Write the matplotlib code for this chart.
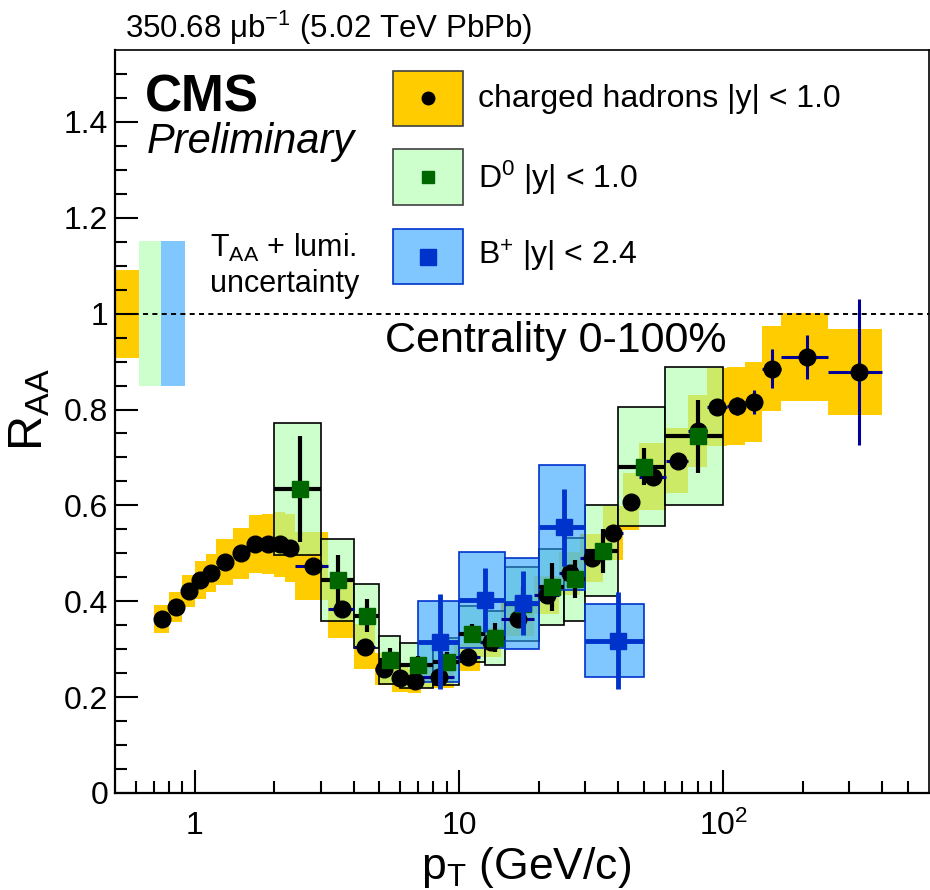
import matplotlib
matplotlib.use('Agg')
import matplotlib.pyplot as plt
from matplotlib.patches import Rectangle
from matplotlib.lines import Line2D
from matplotlib.ticker import FixedLocator, FixedFormatter, NullFormatter

plt.rcParams['font.family'] = ['Liberation Sans', 'DejaVu Sans']
plt.rcParams['mathtext.fontset'] = 'custom'
plt.rcParams['mathtext.rm'] = 'Liberation Sans'
plt.rcParams['mathtext.it'] = 'Liberation Sans:italic'
plt.rcParams['mathtext.bf'] = 'Liberation Sans:bold'

# ---------------- data ----------------
ch_lo = [0.7, 0.8, 0.9, 1.0, 1.1, 1.2, 1.4, 1.6, 1.8, 2.0, 2.2, 2.4, 3.2, 4.0, 4.8, 5.6, 6.4, 7.2,
         9.6, 12.0, 14.4, 19.2, 24.0, 28.8, 35.2, 41.6, 48.0, 60.8, 73.6, 86.4, 103.6, 120.8, 140, 165, 250]
ch_hi = [0.8, 0.9, 1.0, 1.1, 1.2, 1.4, 1.6, 1.8, 2.0, 2.2, 2.4, 3.2, 4.0, 4.8, 5.6, 6.4, 7.2, 9.6,
         12.0, 14.4, 19.2, 24.0, 28.8, 35.2, 41.6, 48.0, 60.8, 73.6, 86.4, 103.6, 120.8, 140, 165, 250, 400]
ch_raa = [0.363, 0.388, 0.421, 0.444, 0.459, 0.482, 0.500, 0.519, 0.519, 0.519, 0.511, 0.474, 0.384,
          0.305, 0.259, 0.239, 0.234, 0.243, 0.283, 0.314, 0.362, 0.413, 0.458, 0.490, 0.542, 0.608,
          0.660, 0.693, 0.756, 0.805, 0.808, 0.816, 0.885, 0.909, 0.878]
ch_stat = [0.002, 0.002, 0.002, 0.002, 0.002, 0.002, 0.002, 0.002, 0.002, 0.002, 0.002, 0.002, 0.002,
           0.002, 0.002, 0.002, 0.002, 0.002, 0.003, 0.003, 0.004, 0.005, 0.005, 0.006, 0.007, 0.008,
           0.008, 0.01, 0.01, 0.012, 0.019, 0.025, 0.041, 0.046, 0.153]
ch_sys = [0.029, 0.031, 0.034, 0.039, 0.040, 0.048, 0.053, 0.060, 0.062, 0.068, 0.070, 0.071, 0.061,
          0.047, 0.034, 0.028, 0.025, 0.023, 0.028, 0.030, 0.035, 0.040, 0.045, 0.050, 0.056, 0.059,
          0.070, 0.068, 0.075, 0.082, 0.081, 0.083, 0.089, 0.092, 0.090]

d0_lo = [2, 3, 4, 5, 6, 8, 10, 12.5, 15, 20, 25, 30, 40, 60]
d0_hi = [3, 4, 5, 6, 8, 10, 12.5, 15, 20, 25, 30, 40, 60, 100]
d0_raa = [0.634, 0.444, 0.370, 0.277, 0.266, 0.274, 0.332, 0.324, 0.395, 0.430, 0.446, 0.505, 0.681, 0.744]
d0_stat = [0.111, 0.052, 0.034, 0.026, 0.020, 0.020, 0.020, 0.030, 0.035, 0.050, 0.040, 0.046, 0.039, 0.076]
d0_sys = [0.137, 0.086, 0.067, 0.050, 0.047, 0.049, 0.058, 0.056, 0.077, 0.080, 0.087, 0.095, 0.125, 0.144]

bp_lo = [7, 10, 15, 20, 30]
bp_hi = [10, 15, 20, 30, 50]
bp_raa = [0.316, 0.403, 0.396, 0.554, 0.318]
bp_stat = [0.099, 0.067, 0.067, 0.080, 0.101]
bp_sys = [0.084, 0.100, 0.095, 0.130, 0.076]

# normalisation uncertainty boxes (x range, half height)
norm_lo = [0.5, 0.614, 0.745]
norm_hi = [0.614, 0.745, 0.917]
norm_unc = [0.092, 0.151, 0.151]

y_ticks = [0, 0.2, 0.4, 0.6, 0.8, 1.0, 1.2, 1.4]
y_ticklabels = ['0', '0.2', '0.4', '0.6', '0.8', '1', '1.2', '1.4']
x_ticks = [1, 10, 100]
x_ticklabels = ['1', '10', r'$10^{2}$']

# ---------------- style ----------------
YEL = '#ffcc00'
GRN_FACE = (0.667, 1.0, 0.667, 0.6)
GRN_LEG = (0.8, 1.0, 0.8)
BLU_FACE = (0.17, 0.63, 1.0, 0.6)
BLU_LEG = (0.5, 0.78, 1.0)
BLU = (0.0, 0.2, 0.8)
DGRN = (0.0, 0.4, 0.0)
NAVY = (0.0, 0.0, 0.6)

W, H = 930, 890
fx = lambda p: p / W
fy = lambda p: 1 - p / H

fig = plt.figure(figsize=(9.3, 8.9), dpi=100)
ax = fig.add_axes([fx(115), fy(793), (929 - 115) / W, (793 - 50) / H])
ax.set_xscale('log')
ax.set_xlim(0.5, 600)
ax.set_ylim(0, 1.55)


def boxes(lo, hi, y, s, fc, ec, lw, z):
    for l, h, v, e in zip(lo, hi, y, s):
        ax.add_patch(Rectangle((l, v - e), h - l, 2 * e, facecolor=fc, edgecolor=ec,
                               linewidth=lw, zorder=z))


# normalisation boxes
boxes(norm_lo[:1], norm_hi[:1], [1.0], norm_unc[:1], YEL, 'none', 0, 1)
boxes(norm_lo[1:2], norm_hi[1:2], [1.0], norm_unc[1:2], GRN_LEG, 'none', 0, 1)
boxes(norm_lo[2:], norm_hi[2:], [1.0], norm_unc[2:], BLU_LEG, 'none', 0, 1)

ax.axhline(1.0, color='black', linestyle=(0, (2.6, 2.2)), linewidth=1.4, zorder=8)

# systematic boxes
boxes(ch_lo, ch_hi, ch_raa, ch_sys, YEL, 'none', 0, 2)
boxes(d0_lo, d0_hi, d0_raa, d0_sys, GRN_FACE, 'black', 1.2, 3)
boxes(bp_lo, bp_hi, bp_raa, bp_sys, BLU_FACE, BLU, 1.2, 4)

# points
def centers(lo, hi):
    return [(l + h) / 2 for l, h in zip(lo, hi)]

cx = centers(ch_lo, ch_hi)
ax.errorbar(cx, ch_raa, yerr=ch_stat,
            xerr=[[c - l for c, l in zip(cx, ch_lo)], [h - c for c, h in zip(cx, ch_hi)]],
            fmt='o', color='black', ms=12, ecolor=NAVY, elinewidth=2.2, capsize=0, zorder=5)
dx = centers(d0_lo, d0_hi)
ax.errorbar(dx, d0_raa, yerr=d0_stat,
            xerr=[[c - l for c, l in zip(dx, d0_lo)], [h - c for c, h in zip(dx, d0_hi)]],
            fmt='s', mfc=DGRN, mec=DGRN, ms=11, ecolor='black', elinewidth=3, capsize=0, zorder=6)
bx = centers(bp_lo, bp_hi)
ax.errorbar(bx, bp_raa, yerr=bp_stat,
            xerr=[[c - l for c, l in zip(bx, bp_lo)], [h - c for c, h in zip(bx, bp_hi)]],
            fmt='s', mfc=BLU, mec=BLU, ms=12, ecolor=BLU, elinewidth=3.5, capsize=0, zorder=7)

# axes styling
ax.yaxis.set_major_locator(FixedLocator(y_ticks))
ax.yaxis.set_major_formatter(FixedFormatter(y_ticklabels))
ax.yaxis.set_minor_locator(FixedLocator([i * 0.05 for i in range(31)]))
ax.xaxis.set_major_locator(FixedLocator(x_ticks))
ax.xaxis.set_major_formatter(FixedFormatter(x_ticklabels))
ax.xaxis.set_minor_locator(FixedLocator([0.6, 0.7, 0.8, 0.9] + list(range(2, 10)) +
                                        list(range(20, 100, 10)) + [200, 300, 400, 500]))
ax.xaxis.set_minor_formatter(NullFormatter())
ax.tick_params(which='both', direction='in', top=False, right=False, width=1.5)
ax.tick_params(which='major', length=16.5, labelsize=23)
ax.tick_params(which='minor', length=8.6)
ax.tick_params(axis='x', which='major', pad=13)
ax.tick_params(axis='y', which='major', pad=5)
for s in ['left', 'bottom']:
    ax.spines[s].set_linewidth(1.6)
for s in ['top', 'right']:
    ax.spines[s].set_linewidth(1.2)

# legend boxes
leg = [(70.7, 125.7, YEL, 'o', 'black', 9, 'charged hadrons |y| < 1.0', 106.7),
       (149.3, 205.0, GRN_LEG, 's', DGRN, 9, r'D$^{0}$ |y| < 1.0', 188.3),
       (229.0, 284.0, BLU_LEG, 's', BLU, 11, r'B$^{+}$ |y| < 2.4', 265.0)]
for i, (t, b, fc, mk, mc, msz, lab, base) in enumerate(leg):
    ec = BLU if i == 2 else (0.25, 0.25, 0.25)
    fig.add_artist(Rectangle((fx(392.7), fy(b)), (463.3 - 392.7) / W, (b - t) / H,
                             transform=fig.transFigure, facecolor=fc, edgecolor=ec, linewidth=1.2))
    fig.add_artist(Line2D([fx(428)], [fy((t + b) / 2)], marker=mk, color=mc, ms=msz,
                          linestyle='none', transform=fig.transFigure))
    fig.text(fx(478), fy(base), lab, fontsize=23, va='baseline')

# texts
fig.text(fx(125), fy(38), r'350.68 μb$^{-1}$ (5.02 TeV PbPb)', fontsize=22.5, va='baseline')
fig.text(fx(145), fy(111.7), 'CMS', fontsize=37, fontweight='bold', va='baseline')
fig.text(fx(147), fy(153), 'Preliminary', fontsize=30, fontstyle='italic', va='baseline')
fig.text(fx(210), fy(256.7), r'T$_{\rm AA}$ + lumi.', fontsize=22, va='baseline')
fig.text(fx(210), fy(291.7), 'uncertainty', fontsize=22, va='baseline')
fig.text(fx(385), fy(352), 'Centrality 0-100%', fontsize=31, va='baseline')

fig.text(fx(421), fy(879), r'p$_{\rm T}$ (GeV/c)', fontsize=32, va='baseline')
fig.text(fx(30), fy(410), r'R$_{\rm AA}$', fontsize=35, rotation=90,
         ha='center', va='center')

fig.savefig('out.png', dpi=100)
